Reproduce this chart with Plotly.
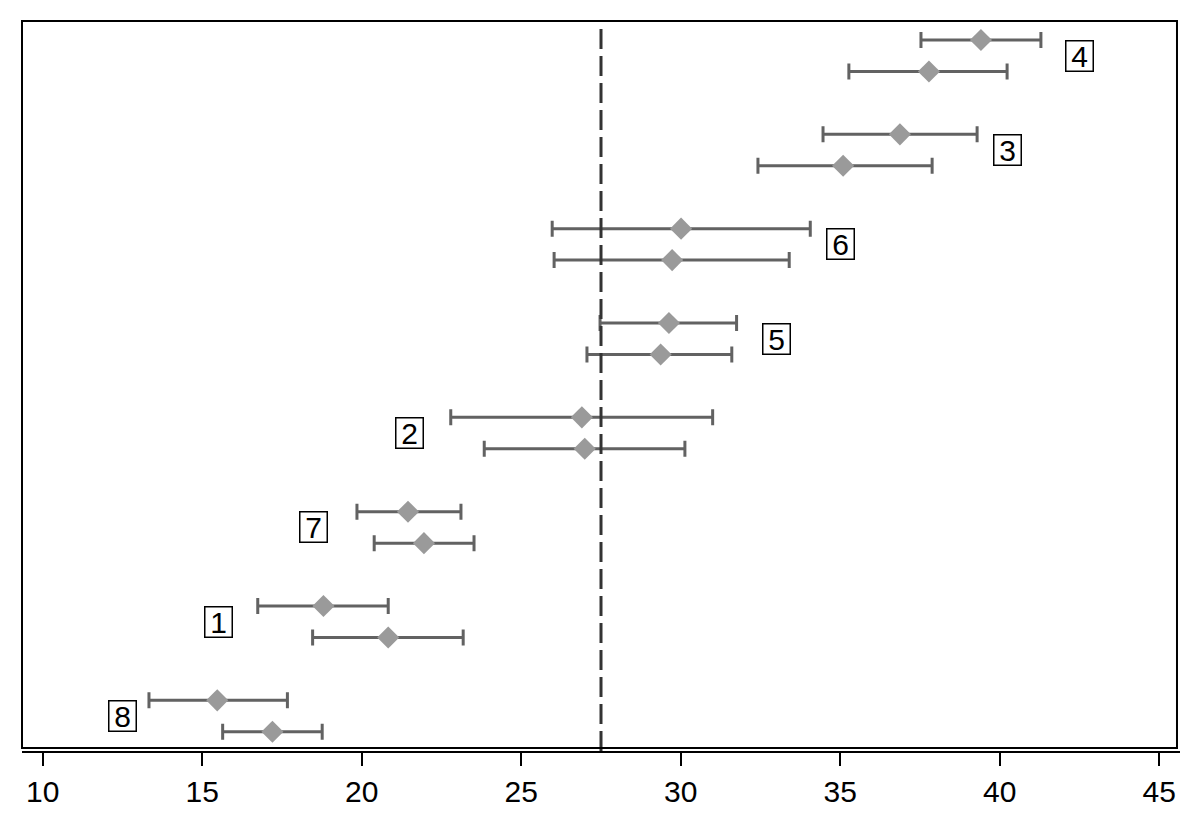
import plotly.graph_objects as go

# rows are slots top to bottom; every group uses two slots plus a blank one
slots = [0, 1, 3, 4, 6, 7, 9, 10, 12, 13, 15, 16, 18, 19, 21, 22]
estimate = [39.41, 37.78, 36.87, 35.09, 30.01, 29.73, 29.63, 29.37,
            26.90, 26.99, 21.45, 21.95, 18.80, 20.83, 15.47, 17.20]
lower = [37.53, 35.27, 34.46, 32.42, 25.97, 26.03, 27.47, 27.06,
         22.79, 23.84, 19.85, 20.39, 16.74, 18.46, 13.33, 15.64]
upper = [41.29, 40.23, 39.29, 37.88, 34.06, 33.40, 31.75, 31.60,
         31.00, 30.13, 23.11, 23.52, 20.83, 23.18, 17.67, 18.76]

group_labels = ["4", "3", "6", "5", "2", "7", "1", "8"]
label_x = [42.5, 40.25, 35.0, 33.0, 21.5, 18.5, 15.5, 12.5]
label_slot = [0.5, 3.5, 6.5, 9.5, 12.5, 15.5, 18.5, 21.5]

reference = 27.5
x_ticks = [10, 15, 20, 25, 30, 35, 40, 45]

font = "Liberation Sans, Arial, sans-serif"

fig = go.Figure()
fig.add_trace(
    go.Scatter(
        x=estimate,
        y=slots,
        mode="markers",
        marker={"symbol": "diamond", "size": 17, "color": "#9a9a9a"},
        error_x={
            "type": "data",
            "symmetric": False,
            "array": [u - e for u, e in zip(upper, estimate)],
            "arrayminus": [e - l for e, l in zip(estimate, lower)],
            "color": "#626262",
            "thickness": 3,
            "width": 8,
        },
        showlegend=False,
    )
)

for txt, lx, ly in zip(group_labels, label_x, label_slot):
    fig.add_annotation(
        x=lx, y=ly, text=txt, showarrow=False,
        font={"family": font, "size": 30, "color": "black"},
        bordercolor="black", borderwidth=1.5, borderpad=0,
        width=26, height=29, bgcolor="white",
    )

# dashed reference line
fig.add_shape(
    type="line", xref="x", yref="paper", x0=reference, x1=reference, y0=0, y1=1,
    line={"color": "#333333", "width": 3, "dash": "20px,7px"}, layer="above",
)
# frame of the plot region, sitting just above the x axis line
fig.add_shape(
    type="rect", xref="paper", yref="paper", x0=0, x1=0.9974, y0=0.004, y1=1,
    line={"color": "black", "width": 2}, layer="above",
)

# the page body adds an 8px margin, so the figure is a bit smaller than the window
fig.update_layout(
    width=1192,
    height=815,
    plot_bgcolor="white",
    paper_bgcolor="white",
    margin={"l": 14, "r": 20, "t": 13, "b": 72},
    xaxis={
        "range": [9.35, 45.65],
        "tickvals": x_ticks,
        "ticks": "outside",
        "ticklen": 13,
        "tickwidth": 1.5,
        "tickcolor": "black",
        "showline": True,
        "linecolor": "black",
        "linewidth": 2,
        "showgrid": False,
        "zeroline": False,
        "tickfont": {"family": font, "size": 30, "color": "black"},
    },
    yaxis={
        "range": [22.61, -0.604],
        "visible": False,
        "showgrid": False,
        "zeroline": False,
    },
)

fig.write_html("out.html")
